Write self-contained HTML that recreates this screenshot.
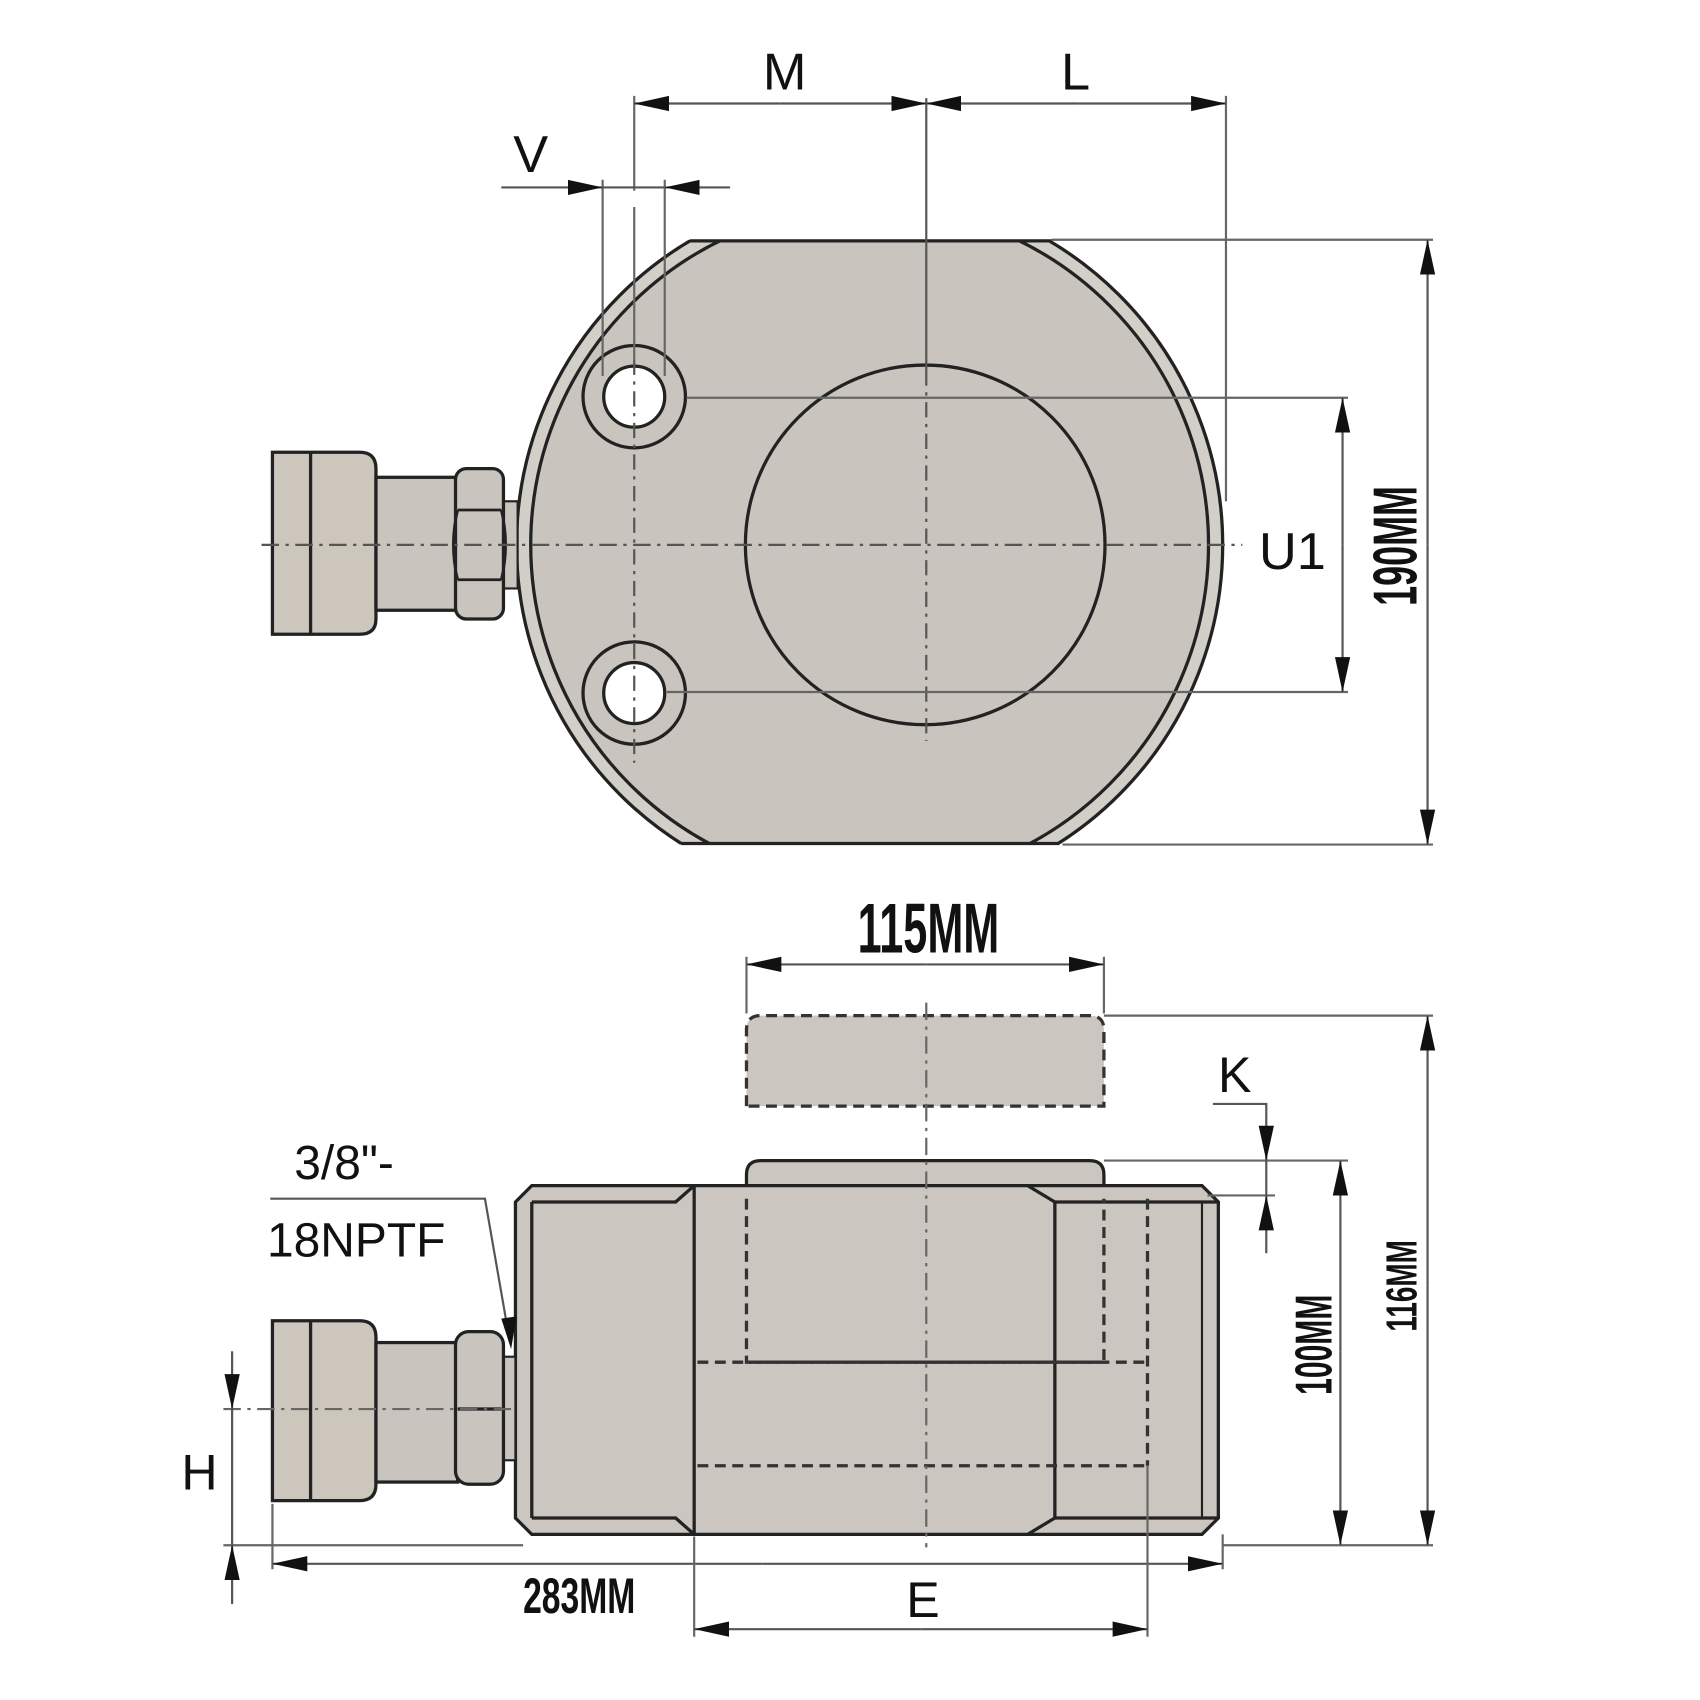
<!DOCTYPE html>
<html><head><meta charset="utf-8"><style>
html,body{margin:0;padding:0;background:#fff;}
svg{display:block;}
text{font-family:"Liberation Sans",sans-serif;fill:#111;}
.b{font-weight:bold;}
</style></head><body>
<svg width="1700" height="1700" viewBox="0 0 1560 1560" xmlns="http://www.w3.org/2000/svg">
<defs>
<marker id="a" markerUnits="userSpaceOnUse" markerWidth="34" markerHeight="20" refX="32" refY="10" orient="auto">
<path d="M0,3 L32,10 L0,17 Z" fill="#111"/>
</marker>
<clipPath id="bodyclip"><rect x="0" y="220" width="1560" height="555"/></clipPath>
</defs>

<!-- ============ TOP VIEW ============ -->
<g clip-path="url(#bodyclip)">
<circle cx="798" cy="500" r="324" fill="#d2cec8" stroke="#222" stroke-width="3"/>
<circle cx="798" cy="500" r="311" fill="#c9c4be" stroke="#222" stroke-width="3"/>
</g>
<line x1="633" y1="221" x2="965" y2="221" stroke="#222" stroke-width="3"/>
<line x1="625" y1="774" x2="972" y2="774" stroke="#222" stroke-width="3"/>

<!-- holes -->
<circle cx="582" cy="364" r="47" fill="#c9c4be" stroke="#222" stroke-width="3"/>
<circle cx="582" cy="364" r="28" fill="#fff" stroke="#222" stroke-width="3"/>
<circle cx="582" cy="636" r="47" fill="#c9c4be" stroke="#222" stroke-width="3"/>
<circle cx="582" cy="636" r="28" fill="#fff" stroke="#222" stroke-width="3"/>
<!-- piston -->
<circle cx="849" cy="500" r="165" fill="#c9c4be" stroke="#222" stroke-width="3"/>

<!-- coupler top -->
<path d="M250,415 H330 Q345,415 345,430 V568 Q345,582 330,582 H250 Z" fill="#cdc6bd" stroke="#222" stroke-width="3"/>
<line x1="285" y1="415" x2="285" y2="582" stroke="#222" stroke-width="3"/>
<rect x="345" y="438" width="75" height="122" fill="#c9c4be" stroke="#222" stroke-width="3"/>
<rect x="460" y="460" width="15" height="80" fill="#c9c4be" stroke="#222" stroke-width="2"/>
<rect x="418" y="430" width="44" height="138" rx="10" fill="#c9c4be" stroke="#222" stroke-width="3"/>
<path d="M420,468 H460 M420,532 H460 M420,468 Q412,500 420,532 M460,468 Q468,500 460,532" fill="none" stroke="#222" stroke-width="2.5"/>

<!-- center lines top -->
<line x1="240" y1="500" x2="1140" y2="500" stroke="#555" stroke-width="2" stroke-dasharray="16,6,3,6"/>
<line x1="582" y1="330" x2="582" y2="700" stroke="#555" stroke-width="2" stroke-dasharray="14,6,3,6"/>
<line x1="850" y1="90" x2="850" y2="340" stroke="#555" stroke-width="2"/>
<line x1="850" y1="340" x2="850" y2="680" stroke="#555" stroke-width="2" stroke-dasharray="14,6,3,6"/>

<!-- M / L -->
<line x1="582" y1="88" x2="582" y2="175" stroke="#666" stroke-width="2"/>
<line x1="582" y1="190" x2="582" y2="330" stroke="#666" stroke-width="2"/>
<line x1="1125" y1="88" x2="1125" y2="460" stroke="#666" stroke-width="2"/>
<line x1="716" y1="95" x2="582" y2="95" stroke="#555" stroke-width="2" marker-end="url(#a)"/>
<line x1="716" y1="95" x2="850" y2="95" stroke="#555" stroke-width="2" marker-end="url(#a)"/>
<line x1="990" y1="95" x2="850" y2="95" stroke="#555" stroke-width="2" marker-end="url(#a)"/>
<line x1="990" y1="95" x2="1125" y2="95" stroke="#555" stroke-width="2" marker-end="url(#a)"/>
<text x="720" y="82" font-size="48" text-anchor="middle">M</text>
<text x="987" y="82" font-size="48" text-anchor="middle">L</text>

<!-- V -->
<line x1="553" y1="165" x2="553" y2="345" stroke="#666" stroke-width="2"/>
<line x1="610" y1="165" x2="610" y2="345" stroke="#666" stroke-width="2"/>
<line x1="460" y1="172" x2="553" y2="172" stroke="#555" stroke-width="2" marker-end="url(#a)"/>
<line x1="670" y1="172" x2="610" y2="172" stroke="#555" stroke-width="2" marker-end="url(#a)"/>
<line x1="553" y1="172" x2="610" y2="172" stroke="#555" stroke-width="2"/>
<text x="487" y="158" font-size="48" text-anchor="middle">V</text>

<!-- U1 -->
<line x1="630" y1="365" x2="1237" y2="365" stroke="#666" stroke-width="2"/>
<line x1="612" y1="635" x2="1237" y2="635" stroke="#666" stroke-width="2"/>
<line x1="1232" y1="500" x2="1232" y2="365" stroke="#555" stroke-width="2" marker-end="url(#a)"/>
<line x1="1232" y1="500" x2="1232" y2="635" stroke="#555" stroke-width="2" marker-end="url(#a)"/>
<text x="1186" y="522" font-size="48" text-anchor="middle">U1</text>

<!-- 190MM -->
<line x1="965" y1="220" x2="1315" y2="220" stroke="#666" stroke-width="2"/>
<line x1="975" y1="775" x2="1315" y2="775" stroke="#666" stroke-width="2"/>
<line x1="1310" y1="500" x2="1310" y2="220" stroke="#555" stroke-width="2" marker-end="url(#a)"/>
<line x1="1310" y1="500" x2="1310" y2="775" stroke="#555" stroke-width="2" marker-end="url(#a)"/>
<text class="b" transform="translate(1300,556) rotate(-90)" font-size="57" textLength="110" lengthAdjust="spacingAndGlyphs">190MM</text>

<!-- ============ BOTTOM VIEW ============ -->
<path d="M685,1015 V945 Q685,932 698,932 H1000 Q1013,932 1013,945 V1015 Z" fill="#cbc6c0" stroke="#333" stroke-width="3" stroke-dasharray="10,6"/>
<line x1="685" y1="878" x2="685" y2="930" stroke="#666" stroke-width="2"/>
<line x1="1013" y1="878" x2="1013" y2="930" stroke="#666" stroke-width="2"/>
<line x1="850" y1="885" x2="685" y2="885" stroke="#555" stroke-width="2" marker-end="url(#a)"/>
<line x1="850" y1="885" x2="1013" y2="885" stroke="#555" stroke-width="2" marker-end="url(#a)"/>
<text class="b" x="787" y="874" font-size="65" textLength="130" lengthAdjust="spacingAndGlyphs">115MM</text>

<path d="M685,1100 V1078 Q685,1065 698,1065 H1000 Q1013,1065 1013,1078 V1100 Z" fill="#cbc6c0" stroke="#222" stroke-width="3"/>
<polygon points="473,1103 488,1088 1103,1088 1118,1103 1118,1393 1103,1408 488,1408 473,1393" fill="#cbc6c0" stroke="#222" stroke-width="3"/>
<polyline points="488,1103 620,1103 637,1088" fill="none" stroke="#222" stroke-width="3"/>
<polyline points="488,1393 620,1393 637,1408" fill="none" stroke="#222" stroke-width="3"/>
<line x1="488" y1="1103" x2="488" y2="1393" stroke="#222" stroke-width="3"/>
<line x1="637" y1="1088" x2="637" y2="1408" stroke="#222" stroke-width="3"/>
<polyline points="943,1088 968,1103 1118,1103" fill="none" stroke="#222" stroke-width="3"/>
<polyline points="943,1408 968,1393 1118,1393" fill="none" stroke="#222" stroke-width="3"/>
<line x1="968" y1="1103" x2="968" y2="1393" stroke="#222" stroke-width="3"/>
<line x1="1103" y1="1103" x2="1103" y2="1393" stroke="#222" stroke-width="2"/>
<g stroke="#333" stroke-width="3" stroke-dasharray="10,6" fill="none">
<polyline points="685,1100 685,1250 1013,1250 1013,1100"/>
<line x1="640" y1="1250" x2="1053" y2="1250"/>
<line x1="1053" y1="1100" x2="1053" y2="1345"/>
<line x1="640" y1="1345" x2="1053" y2="1345"/>
</g>
<line x1="850" y1="920" x2="850" y2="1420" stroke="#666" stroke-width="2" stroke-dasharray="16,6,3,6"/>

<path d="M250,1212 H330 Q345,1212 345,1227 V1362 Q345,1377 330,1377 H250 Z" fill="#cdc6bd" stroke="#222" stroke-width="3"/>
<line x1="285" y1="1212" x2="285" y2="1377" stroke="#222" stroke-width="3"/>
<rect x="345" y="1232" width="75" height="128" fill="#c9c4be" stroke="#222" stroke-width="3"/>
<rect x="460" y="1245" width="13" height="95" fill="#c9c4be" stroke="#222" stroke-width="2"/>
<rect x="418" y="1222" width="44" height="140" rx="12" fill="#c9c4be" stroke="#222" stroke-width="3"/>
<line x1="420" y1="1293" x2="460" y2="1293" stroke="#222" stroke-width="3"/>
<line x1="205" y1="1293" x2="470" y2="1293" stroke="#666" stroke-width="2" stroke-dasharray="16,6,3,6"/>

<text x="270" y="1082" font-size="44">3/8"-</text>
<polyline points="248,1100 445,1100 468,1232" fill="none" stroke="#555" stroke-width="2"/>
<path d="M460,1210 L474,1208 L469,1238 Z" fill="#111"/>
<text x="245" y="1153" font-size="44">18NPTF</text>

<line x1="205" y1="1418" x2="480" y2="1418" stroke="#666" stroke-width="2"/>
<line x1="213" y1="1240" x2="213" y2="1293" stroke="#555" stroke-width="2" marker-end="url(#a)"/>
<line x1="213" y1="1293" x2="213" y2="1418" stroke="#555" stroke-width="2"/>
<line x1="213" y1="1472" x2="213" y2="1418" stroke="#555" stroke-width="2" marker-end="url(#a)"/>
<text x="183" y="1367" font-size="46" text-anchor="middle">H</text>

<line x1="250" y1="1380" x2="250" y2="1440" stroke="#666" stroke-width="2"/>
<line x1="1122" y1="1408" x2="1122" y2="1440" stroke="#666" stroke-width="2"/>
<line x1="700" y1="1435" x2="250" y2="1435" stroke="#555" stroke-width="2" marker-end="url(#a)"/>
<line x1="700" y1="1435" x2="1122" y2="1435" stroke="#555" stroke-width="2" marker-end="url(#a)"/>
<text class="b" x="480" y="1480" font-size="46" textLength="103" lengthAdjust="spacingAndGlyphs">283MM</text>

<line x1="637" y1="1410" x2="637" y2="1502" stroke="#666" stroke-width="2"/>
<line x1="1053" y1="1345" x2="1053" y2="1502" stroke="#666" stroke-width="2"/>
<line x1="845" y1="1495" x2="637" y2="1495" stroke="#555" stroke-width="2" marker-end="url(#a)"/>
<line x1="845" y1="1495" x2="1053" y2="1495" stroke="#555" stroke-width="2" marker-end="url(#a)"/>
<text x="847" y="1484" font-size="46" text-anchor="middle">E</text>

<polyline points="1113,1013 1162,1013 1162,1020" fill="none" stroke="#555" stroke-width="2"/>
<line x1="1013" y1="1065" x2="1237" y2="1065" stroke="#666" stroke-width="2"/>
<line x1="1108" y1="1097" x2="1170" y2="1097" stroke="#666" stroke-width="2"/>
<line x1="1162" y1="1020" x2="1162" y2="1065" stroke="#555" stroke-width="2" marker-end="url(#a)"/>
<line x1="1162" y1="1065" x2="1162" y2="1097" stroke="#555" stroke-width="2"/>
<line x1="1162" y1="1150" x2="1162" y2="1097" stroke="#555" stroke-width="2" marker-end="url(#a)"/>
<text x="1133" y="1002" font-size="46" text-anchor="middle">K</text>

<line x1="1122" y1="1418" x2="1237" y2="1418" stroke="#666" stroke-width="2"/>
<line x1="1230" y1="1240" x2="1230" y2="1065" stroke="#555" stroke-width="2" marker-end="url(#a)"/>
<line x1="1230" y1="1240" x2="1230" y2="1418" stroke="#555" stroke-width="2" marker-end="url(#a)"/>
<text class="b" transform="translate(1222,1280) rotate(-90)" font-size="48" textLength="92" lengthAdjust="spacingAndGlyphs">100MM</text>

<line x1="1013" y1="932" x2="1315" y2="932" stroke="#666" stroke-width="2"/>
<line x1="1237" y1="1418" x2="1315" y2="1418" stroke="#666" stroke-width="2"/>
<line x1="1310" y1="1180" x2="1310" y2="932" stroke="#555" stroke-width="2" marker-end="url(#a)"/>
<line x1="1310" y1="1180" x2="1310" y2="1418" stroke="#555" stroke-width="2" marker-end="url(#a)"/>
<text class="b" transform="translate(1300,1222) rotate(-90)" font-size="40" textLength="84" lengthAdjust="spacingAndGlyphs">116MM</text>
</svg>
</body></html>
